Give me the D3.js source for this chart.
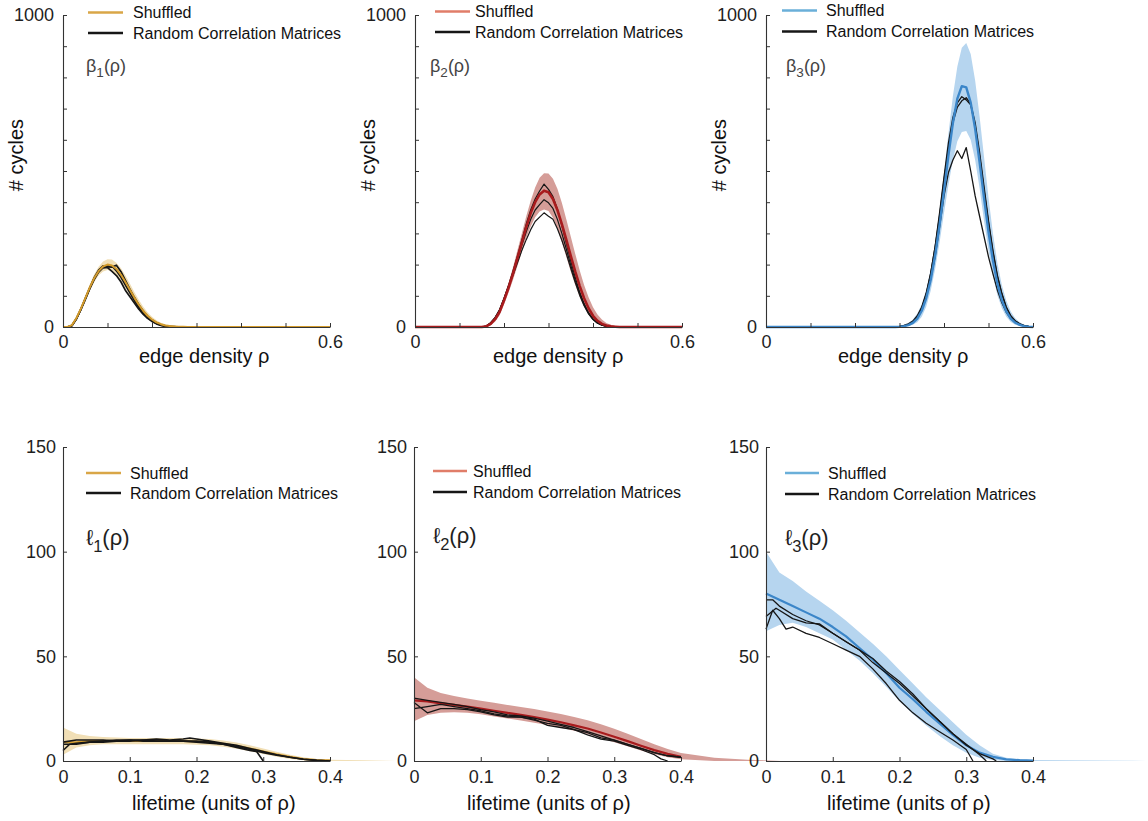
<!DOCTYPE html>
<html>
<head>
<meta charset="utf-8">
<script src="https://cdn.jsdelivr.net/npm/d3@7"></script>
<style>
  body { margin: 0; background: #fff; }
  svg { display: block; }
</style>
</head>
<body>
<script>
// ---- data ----

// top row: Betti curves, x = edge density rho
const b1Rho = [0,.01,.02,.03,.04,.05,.06,.07,.08,.09,.10,.11,.12,.13,.14,.15,.16,.17,.18,.19,.20,.21,.22,.23,.24,.25,.26,.27,.28,.29,.30,.60];
const b1Mean = [0,0,6,28,58,92,126,156,179,194,200,197,186,168,145,120,95,72,52,36,24,15,9,5,3,2,1,1,0,0,0,0];
const b1Hi = [0,2,10,33,64,100,136,168,193,210,217,216,206,189,166,140,113,88,66,47,33,22,14,9,6,4,3,2,1.5,1.5,1.5,1.5];
const b1Lo = [0,0,2,22,51,84,116,144,165,178,183,179,167,148,125,101,78,57,40,26,16,9,5,2,1,0,0,0,0,0,0,0];
const b1RandA = [0,0,4,25,56,90,124,158,182,196,195,196,180,160,135,110,86,64,45,30,19,11,6,3,1,0,0,0,0,0,0,0];
const b1RandB = [0,0,5,27,55,88,122,152,176,190,193,192,198,178,150,122,96,72,52,35,23,14,8,4,2,1,0,0,0,0,0,0];
const b1RandC = [0,0,5,26,57,91,125,155,178,191,190,178,165,145,118,98,78,58,41,28,18,10,5,2,1,0,0,0,0,0,0,0];

const b2Rho = [0,.15,.16,.17,.18,.19,.20,.21,.22,.23,.24,.25,.26,.27,.28,.29,.30,.31,.32,.33,.34,.35,.36,.37,.38,.39,.40,.41,.42,.43,.44,.45,.46,.47,.60];
const b2Mean = [0,0,2,10,25,48,85,125,170,220,270,320,365,400,425,437,432,410,375,330,280,228,178,132,92,60,36,20,10,5,2,1,0,0,0];
const b2Hi = [1,2,6,16,33,58,97,140,190,245,300,355,405,447,478,493,492,475,443,398,345,290,235,182,135,95,63,40,24,13,7,3,1,0,0];
const b2Lo = [0,0,0,5,17,38,72,110,150,195,240,285,322,352,370,377,372,350,315,272,225,178,135,97,65,40,23,12,5,2,0,0,0,0,0];
const b2RandA = [0,0,3,14,30,55,92,132,178,226,278,330,375,410,436,458,441,418,378,325,268,212,160,112,75,46,26,14,7,3,1,0,0,0,0];
const b2RandB = [0,0,2,12,28,52,90,130,172,218,262,305,345,375,392,408,398,380,345,300,250,198,150,108,72,44,25,13,6,2,0,0,0,0,0];
const b2RandC = [0,0,3,13,30,55,90,128,165,205,245,280,312,338,352,366,355,345,315,278,235,188,143,102,68,42,24,12,6,2,0,0,0,0,0];

const b3Rho = [0,.28,.29,.30,.31,.32,.33,.34,.35,.36,.37,.38,.39,.40,.41,.42,.43,.44,.45,.46,.47,.48,.49,.50,.51,.52,.53,.54,.55,.56,.57,.58,.59,.60];
const b3Mean = [0,0,0,1,3,6,13,27,52,92,150,229,326,436,550,654,732,772,768,719,635,528,413,305,212,139,86,50,27,14,7,3,1,0];
const b3Hi = [0,0,1,3,7,13,24,43,73,120,185,270,375,495,620,740,835,895,910,875,790,675,545,415,300,205,135,85,50,28,15,7,3,1];
const b3Lo = [0,0,0,0,1,3,7,15,33,65,115,185,270,365,455,535,595,625,628,600,535,445,340,245,165,102,60,33,16,7,3,1,0,0];
const b3RandA = [0,0,0,1,3,7,15,32,60,105,170,258,365,480,590,672,718,738,728,712,645,548,440,335,240,162,105,62,35,19,10,4,2,1];
const b3RandB = [0,0,0,2,5,10,19,36,64,108,172,255,355,470,575,655,705,725,735,715,655,560,450,340,245,165,108,64,36,20,10,5,2,1];
const b3RandC = [0,0,0,1,3,8,16,33,60,100,155,225,320,420,495,535,565,540,575,500,420,355,290,225,170,118,78,47,27,15,8,4,2,1];

// bottom row: persistence lifetimes, x = lifetime (units of rho)
const l1Life = [0,.02,.04,.06,.08,.10,.12,.14,.16,.18,.20,.22,.24,.26,.28,.30,.32,.34,.36,.38,.40,.45,.50];
const l1Mean = [9,9,9.5,9.5,9.5,9.5,9.5,9.5,9.5,9.5,9.3,9,8.3,7.3,6,4.6,3.2,2,1,0.5,0.3,0.1,0];
const l1Hi = [16,13,12,11.5,11.2,11,11,11,11,11,10.8,10.5,9.8,8.8,7.5,6,4.4,3,1.8,1,0.6,0.3,0];
const l1Lo = [3,6.5,7.5,8,8,8,8,8,8,8,7.8,7.5,6.8,5.8,4.6,3.3,2,1,0.4,0.1,0,0,0];
const l1RandX = [
  [0,.02,.04,.06,.08,.10,.12,.14,.16,.18,.19,.20,.22,.24,.26,.28,.30,.32,.34,.36,.38,.40],
  [0,.01,.02,.04,.06,.08,.10,.12,.14,.16,.18,.20,.22,.24,.26,.28,.29,.30],
  [0,.02,.04,.06,.08,.10,.12,.14,.16,.18,.20,.22,.24,.26,.28,.30,.32,.34,.36,.38,.40]
];
const l1RandY = [
  [9,10,10,10,9.5,10,10,10.5,10,10.5,11,10.5,9.5,8.5,7.5,6,4.5,3,1.8,0.8,0.3,0],
  [5,8,8.5,9,9,9.5,9.5,10,9.5,9.5,9.5,9,8.5,8,6.5,5,4.5,0],
  [8,8,9,9.5,10,10,9.5,9.5,9.5,9.5,9.5,9,8,7,5.5,4,2.8,1.8,0.8,0.3,0]
];

const l2Life = [0,.02,.04,.06,.08,.10,.12,.14,.16,.18,.20,.22,.24,.26,.28,.30,.32,.34,.36,.38,.40,.45,.50,.55];
const l2Mean = [29,28.5,27.5,26.8,26,25,24,23,22,21,19.8,18.5,17,15.5,13.6,11.6,9.5,7.3,5.2,3.4,2,0.7,0.2,0];
const l2Hi = [40,35,32.5,31,29.8,28.8,27.8,26.8,25.8,24.8,23.6,22.4,21,19.5,17.6,15.4,13,10.5,8,5.7,3.8,1.6,0.6,0];
const l2Lo = [19,22,23,23.3,23,22.3,21.3,20.3,19.3,18.3,17.2,15.9,14.5,12.9,11,9,7,5,3.2,1.8,0.8,0,0,0];
const l2RandX = [
  [0,.02,.04,.06,.08,.10,.12,.14,.16,.18,.20,.22,.24,.26,.28,.30,.32,.34,.36,.38,.40],
  [0,.02,.04,.06,.08,.10,.12,.14,.16,.18,.20,.22,.24,.26,.28,.30,.32,.34,.36,.37,.38],
  [0,.02,.04,.06,.08,.10,.12,.14,.16,.18,.20,.22,.24,.26,.28,.30,.32,.34,.36,.38,.40]
];
const l2RandY = [
  [30,29,28,27,26,24.5,23.5,22,21.5,20.5,19,17.5,16,14,12,10,8,6,4,2.5,1.8],
  [28,23,25,25,24.5,23.5,22,21,21,20,17,16,15,12.5,10.5,9.5,7.5,5.5,3,1,0],
  [25,26,27,26,25,24,22.5,21.5,21,19.5,18,17,15,13.5,11,10,8,6,4,2.5,1.8]
];

const l3Life = [0,.02,.04,.06,.08,.10,.12,.14,.16,.18,.20,.22,.24,.26,.28,.30,.32,.34,.36,.38,.40,.45,.50,.55,.57];
const l3Mean = [80,77,74,71,68,64,59.5,54,48.5,42,35,29.5,23.5,18,12.5,7.5,4,2,0.8,0.4,0.2,0.1,0,0,0];
const l3Hi = [100,90,86,81,76.5,72,67,61.5,56,50,43.5,37,30.5,24.5,18.5,12.5,7.5,3.5,1.5,0.8,0.5,0.3,0.2,0.1,0];
const l3Lo = [62,65,66,64,61,58,53,48,42,35.5,28.5,22.5,17,12,7.5,4,1.5,0.5,0,0,0,0,0,0,0];
const l3RandX = [
  [0,.01,.02,.04,.06,.08,.10,.12,.14,.16,.18,.20,.22,.24,.26,.28,.30,.32,.33],
  [0,.015,.02,.04,.06,.08,.10,.12,.14,.16,.18,.20,.22,.24,.26,.28,.30,.32,.34,.345],
  [0,.01,.02,.03,.04,.06,.08,.10,.12,.14,.16,.18,.20,.22,.24,.26,.28,.30,.31]
];
const l3RandY = [
  [77,77,74,70,67,65,61,57,53,47,42,37,31,25,19,13,8,3,0],
  [69,73,72,68,66,65.5,61,57,53,49,43,38,32,25,19,13,7.5,3.5,1,0],
  [63,72,68,63,64,61,59,56,53,50,44,37,29,23,18,14,10,5.5,0]
];

// axis ticks
const topXTicks = [0,.1,.2,.3,.4,.5,.6];
const topXLabels = [0,.6];
const topYTicks = [0,100,200,300,400,500,600,700,800,900,1000];
const topYLabels = [0,1000];
const botXTicks = [0,.1,.2,.3,.4];
const botYTicks = [0,50,100,150];

const legendNames = ["Shuffled", "Random Correlation Matrices"];

// ---- styles ----
const FONT = "'Liberation Sans', Arial, Helvetica, sans-serif";
const gold = { legend: "#d9a647", mean: "#d39b2c", band: "#f1dfb6" };
const red  = { legend: "#e07d69", mean: "#a81b1d", band: "#d59d98" };
const blue = { legend: "#6aafd9", mean: "#3b86c9", band: "#b6d5ef" };
const PW = 267;

const svg = d3.select("body").append("svg")
    .attr("width", 1148)
    .attr("height", 821);

svg.append("rect").attr("width", 1148).attr("height", 821).attr("fill", "#fff");

const panels = [
  { left: 63, top: 15, bottom: 327, xMax: .6, yMax: 1000, grid: b1Rho, mean: b1Mean, lo: b1Lo, hi: b1Hi,
    randX: [b1Rho, b1Rho, b1Rho], randY: [b1RandA, b1RandB, b1RandC], col: gold, randW: 1.7, meanW: 2,
    xTicks: topXTicks, xLabels: topXLabels, yTicks: topYTicks, yLabels: topYLabels,
    leg: { x1: 88, x2: 123, tx: 133, y1: 12.5, y2: 33 }, tag: { sym: "β", sub: "1", x: 86, y: 72, size: 18 },
    xTitle: "edge density ρ", xTitleX: 139, xTitleY: 363, yTitle: true, blackFirst: true },
  { left: 415, top: 15, bottom: 327, xMax: .6, yMax: 1000, grid: b2Rho, mean: b2Mean, lo: b2Lo, hi: b2Hi,
    randX: [b2Rho, b2Rho, b2Rho], randY: [b2RandA, b2RandB, b2RandC], col: red, randW: 1.2, meanW: 2.6,
    xTicks: topXTicks, xLabels: topXLabels, yTicks: topYTicks, yLabels: topYLabels,
    leg: { x1: 435, x2: 470, tx: 475, y1: 11.5, y2: 32 }, tag: { sym: "β", sub: "2", x: 430, y: 72, size: 18 },
    xTitle: "edge density ρ", xTitleX: 493, xTitleY: 363, yTitle: true, blackFirst: true },
  { left: 766, top: 15, bottom: 327, xMax: .6, yMax: 1000, grid: b3Rho, mean: b3Mean, lo: b3Lo, hi: b3Hi,
    randX: [b3Rho, b3Rho, b3Rho], randY: [b3RandA, b3RandB, b3RandC], col: blue, randW: 1.3, meanW: 2.4,
    xTicks: topXTicks, xLabels: topXLabels, yTicks: topYTicks, yLabels: topYLabels,
    leg: { x1: 782, x2: 817, tx: 826, y1: 10.5, y2: 31.5 }, tag: { sym: "β", sub: "3", x: 786, y: 72, size: 18 },
    xTitle: "edge density ρ", xTitleX: 838, xTitleY: 363, yTitle: true, blackFirst: true },
  { left: 63, top: 447, bottom: 761, xMax: .4, yMax: 150, grid: l1Life, mean: l1Mean, lo: l1Lo, hi: l1Hi,
    randX: l1RandX, randY: l1RandY, col: gold, randW: 1.6, meanW: 2,
    xTicks: botXTicks, xLabels: botXTicks, yTicks: botYTicks, yLabels: botYTicks,
    leg: { x1: 86, x2: 121, tx: 130, y1: 473, y2: 493 }, tag: { sym: "ℓ", sub: "1", x: 86, y: 545, size: 22 },
    xTitle: "lifetime (units of ρ)", xTitleX: 132, xTitleY: 810, yTitle: false, blackFirst: false },
  { left: 414, top: 447, bottom: 761, xMax: .4, yMax: 150, grid: l2Life, mean: l2Mean, lo: l2Lo, hi: l2Hi,
    randX: l2RandX, randY: l2RandY, col: red, randW: 1.3, meanW: 2.2,
    xTicks: botXTicks, xLabels: botXTicks, yTicks: botYTicks, yLabels: botYTicks,
    leg: { x1: 433, x2: 467, tx: 473, y1: 471, y2: 492 }, tag: { sym: "ℓ", sub: "2", x: 433, y: 543, size: 22 },
    xTitle: "lifetime (units of ρ)", xTitleX: 467, xTitleY: 810, yTitle: false, blackFirst: false },
  { left: 766, top: 447, bottom: 761, xMax: .4, yMax: 150, grid: l3Life, mean: l3Mean, lo: l3Lo, hi: l3Hi,
    randX: l3RandX, randY: l3RandY, col: blue, randW: 1.3, meanW: 2.2,
    xTicks: botXTicks, xLabels: botXTicks, yTicks: botYTicks, yLabels: botYTicks,
    leg: { x1: 785, x2: 819, tx: 828, y1: 473, y2: 494 }, tag: { sym: "ℓ", sub: "3", x: 785, y: 545, size: 22 },
    xTitle: "lifetime (units of ρ)", xTitleX: 827, xTitleY: 810, yTitle: false, blackFirst: false }
];

function styleAxis(sel) {
  sel.attr("font-family", FONT).attr("font-size", 18);
  sel.select(".domain").attr("stroke", "#333").attr("stroke-width", 1.1);
  sel.selectAll(".tick line").attr("stroke", "#333");
  sel.selectAll(".tick text").attr("fill", "#1e1e1e");
}

function drawPanel(p) {
  const x = d3.scaleLinear().domain([0, p.xMax]).range([p.left, p.left + PW]);
  const y = d3.scaleLinear().domain([0, p.yMax]).range([p.bottom, p.top]);
  const g = svg.append("g");

  const rows = p.grid.map((v, i) => ({ x: v, m: p.mean[i], lo: p.lo[i], hi: p.hi[i] }));

  // shuffled spread
  g.append("path")
    .datum(rows)
    .attr("d", d3.area().x(d => x(d.x)).y0(d => y(d.lo)).y1(d => y(d.hi)))
    .attr("fill", p.col.band);

  const drawMean = () => g.append("path")
    .datum(rows.filter(d => d.x <= p.xMax + 1e-9))
    .attr("d", d3.line().x(d => x(d.x)).y(d => y(d.m)))
    .attr("fill", "none")
    .attr("stroke", p.col.mean)
    .attr("stroke-width", p.meanW)
    .attr("stroke-linejoin", "round");

  const drawRandom = () => p.randY.forEach((ys, k) => {
    const xs = p.randX[k];
    g.append("path")
      .datum(ys.map((v, i) => [xs[i], v]))
      .attr("d", d3.line().x(d => x(d[0])).y(d => y(d[1])))
      .attr("fill", "none")
      .attr("stroke", "#161616")
      .attr("stroke-width", p.randW)
      .attr("stroke-linejoin", "round");
  });

  if (p.blackFirst) { drawRandom(); drawMean(); } else { drawMean(); drawRandom(); }

  // axes
  g.append("g")
    .attr("transform", `translate(${p.left},0)`)
    .call(d3.axisLeft(y).tickValues(p.yTicks).tickSize(-4).tickSizeOuter(0).tickPadding(p.yTitle ? 9 : 7)
      .tickFormat(d => p.yLabels.includes(d) ? d : ""))
    .call(styleAxis);

  g.append("g")
    .attr("transform", `translate(0,${p.bottom})`)
    .call(d3.axisBottom(x).tickValues(p.xTicks).tickSize(-4).tickSizeOuter(0).tickPadding(p.yTitle ? 8 : 9)
      .tickFormat(d => p.xLabels.includes(d) ? d : ""))
    .call(styleAxis);

  // titles
  g.append("text")
    .attr("x", p.xTitleX)
    .attr("y", p.xTitleY)
    .attr("font-family", FONT)
    .attr("font-size", 20)
    .attr("fill", "#111")
    .text(p.xTitle);

  if (p.yTitle) {
    g.append("text")
      .attr("transform", `translate(${p.left - 40},155) rotate(-90)`)
      .attr("text-anchor", "middle")
      .attr("font-family", FONT)
      .attr("font-size", 20)
      .attr("fill", "#111")
      .text("# cycles");
  }

  // curve tag like β1(ρ) / ℓ1(ρ)
  const t = g.append("text")
    .attr("x", p.tag.x)
    .attr("y", p.tag.y)
    .attr("font-family", FONT)
    .attr("font-size", p.tag.size)
    .attr("fill", p.yTitle ? "#444" : "#1e1e1e");
  t.append("tspan").text(p.tag.sym);
  t.append("tspan").attr("font-size", p.tag.size * 0.75).attr("dy", p.tag.size * 0.3).text(p.tag.sub);
  t.append("tspan").attr("dy", -p.tag.size * 0.3).text("(ρ)");

  // legend
  const lg = g.append("g").attr("font-family", FONT).attr("font-size", 16).attr("fill", "#111");
  [[p.col.legend, p.leg.y1], ["#161616", p.leg.y2]].forEach(([c, ly], i) => {
    lg.append("line")
      .attr("x1", p.leg.x1).attr("x2", p.leg.x2)
      .attr("y1", ly).attr("y2", ly)
      .attr("stroke", c)
      .attr("stroke-width", 2.6);
    lg.append("text")
      .attr("x", p.leg.tx)
      .attr("y", ly + 5.5)
      .text(legendNames[i]);
  });
}

panels.forEach(drawPanel);
</script>
</body>
</html>
